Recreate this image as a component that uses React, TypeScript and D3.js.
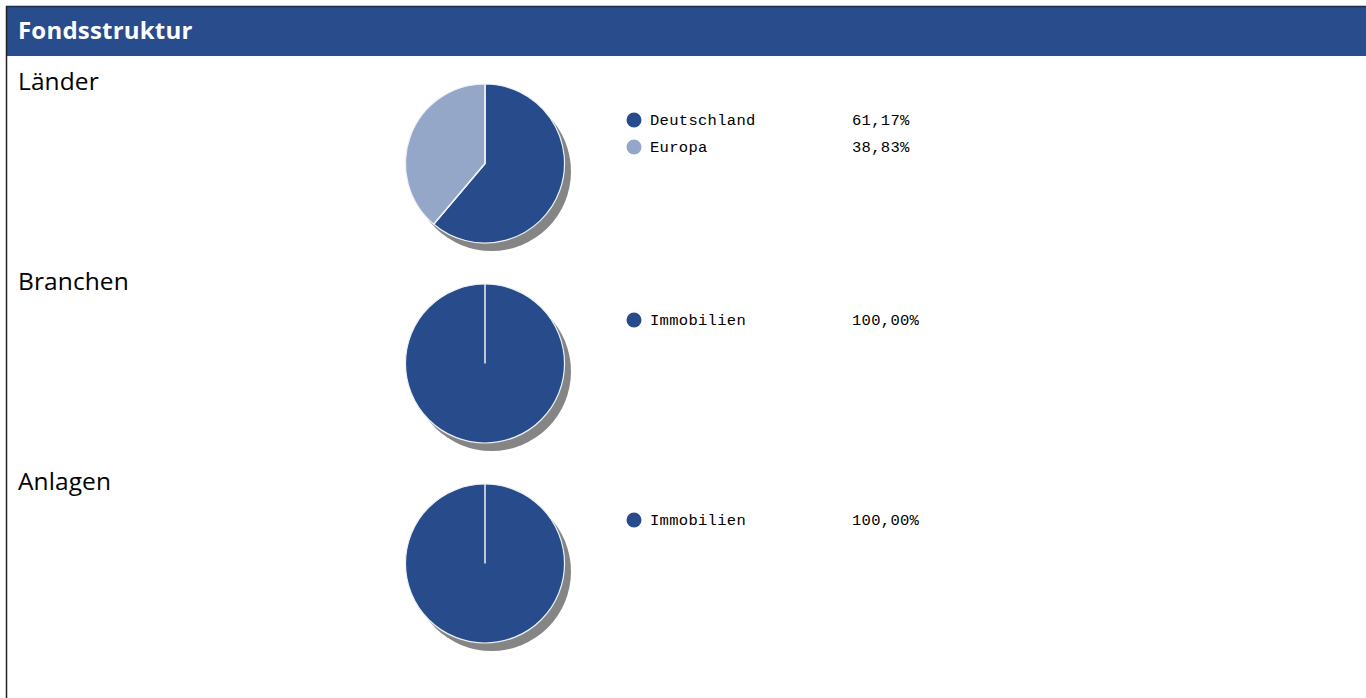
import * as d3 from 'd3';
import { useEffect, useRef } from 'react';

const title = 'Fondsstruktur';
const sections = ['Länder', 'Branchen', 'Anlagen'];
const laenderLabels = ['Deutschland', 'Europa'];
const laenderValues = [61.17, 38.83];
const branchenLabels = ['Immobilien'];
const branchenValues = [100];
const anlagenLabels = ['Immobilien'];
const anlagenValues = [100];

const colors = ['#274b8b', '#94a7c8'];

const W = 1366;
const H = 698;

export default function App() {
  const ref = useRef<SVGSVGElement>(null);

  useEffect(() => {
    const svg = d3.select(ref.current);
    svg.selectAll('*').remove();

    // frame + header
    svg.append('rect').attr('x', 7).attr('y', 7).attr('width', W - 7).attr('height', 49).attr('fill', '#294c8c');
    svg.append('line').attr('x1', 6.5).attr('x2', 6.5).attr('y1', 6).attr('y2', H).attr('stroke', '#222').attr('stroke-width', 1.5);
    svg.append('line').attr('x1', 6).attr('x2', W).attr('y1', 6.5).attr('y2', 6.5).attr('stroke', '#1a2a4a').attr('stroke-width', 1.5);
    svg
      .append('text')
      .attr('x', 18)
      .attr('y', 39)
      .attr('fill', '#fff')
      .attr('font-family', 'Open Sans, sans-serif')
      .attr('font-weight', 700)
      .attr('font-size', 24)
      .attr('letter-spacing', 0.2)
      .text(title);

    const data = [
      { labels: laenderLabels, values: laenderValues },
      { labels: branchenLabels, values: branchenValues },
      { labels: anlagenLabels, values: anlagenValues },
    ];

    const r = 79.5;
    const pie = d3.pie<number>().sort(null).value((d) => d);
    const arc = d3.arc<d3.PieArcDatum<number>>().innerRadius(0).outerRadius(r);

    const defs = svg.append('defs');
    defs
      .append('filter')
      .attr('id', 'blur')
      .append('feGaussianBlur')
      .attr('stdDeviation', 0.6);

    sections.forEach((name, i) => {
      const top = i * 200;
      svg
        .append('text')
        .attr('x', 18)
        .attr('y', 90 + top)
        .attr('fill', '#000')
        .attr('font-family', 'Open Sans, sans-serif')
        .attr('font-size', 24.5)
        .attr('letter-spacing', 0.1)
        .text(name);

      const g = svg.append('g').attr('transform', `translate(485,${163.5 + top})`);
      g.append('circle')
        .attr('cx', 6.5)
        .attr('cy', 8)
        .attr('r', r)
        .attr('fill', '#858585')
        .attr('filter', 'url(#blur)');

      const arcs = pie(data[i].values);
      g.selectAll('path.slice')
        .data(arcs)
        .enter()
        .append('path')
        .attr('class', 'slice')
        .attr('d', arc)
        .attr('fill', (_, j) => colors[j])
        .attr('stroke', '#eef1f6')
        .attr('stroke-width', 1.2);

      // radial boundaries
      g.selectAll('line.sep')
        .data(arcs)
        .enter()
        .append('line')
        .attr('class', 'sep')
        .attr('x1', 0)
        .attr('y1', 0)
        .attr('x2', (d) => r * Math.sin(d.startAngle))
        .attr('y2', (d) => -r * Math.cos(d.startAngle))
        .attr('stroke', '#eef1f6')
        .attr('stroke-width', 1.5);

      const leg = svg.append('g').attr('transform', `translate(634,${120 + top})`);
      const rows = leg
        .selectAll('g')
        .data(data[i].labels)
        .enter()
        .append('g')
        .attr('transform', (_, j) => `translate(0,${j * 27})`);
      rows.append('circle').attr('r', 7.5).attr('fill', (_, j) => colors[j]);
      rows
        .append('text')
        .attr('x', 16)
        .attr('y', 5)
        .attr('font-family', 'Liberation Mono, monospace')
        .attr('font-size', 15.5)
        .attr('letter-spacing', 0.3)
        .text((d) => d);
      rows
        .append('text')
        .attr('x', 218)
        .attr('y', 5)
        .attr('font-family', 'Liberation Mono, monospace')
        .attr('font-size', 15.5)
        .attr('letter-spacing', 0.3)
        .text((_, j) => d3.format('.2f')(data[i].values[j]).replace('.', ',') + '%');
    });
  }, []);

  return <svg ref={ref} width={W} height={H} style={{ position: 'absolute', left: 0, top: 0 }} />;
}
